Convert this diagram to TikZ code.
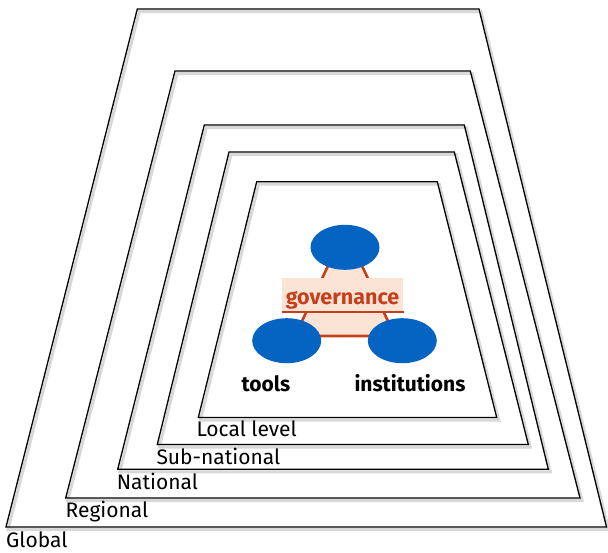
\documentclass[tikz,border=0pt]{standalone}
\usepackage{fontspec}
\setmainfont{Fira Sans}
\usetikzlibrary{shapes.geometric}
\definecolor{peach}{HTML}{FBE4D5}
\definecolor{govred}{HTML}{C4401C}
\definecolor{blobblue}{HTML}{0563C1}
\definecolor{shadowgray}{HTML}{D8D8D8}
\tikzset{
  levelline/.style={draw=black, line width=1.3pt, line join=miter},
  shadowline/.style={draw=shadowgray, line width=3pt},
  lvl/.style={anchor=base west, inner sep=0pt, font=\fontsize{21}{25}\selectfont},
  blob/.style={ellipse, fill=blobblue, minimum width=69pt, minimum height=45pt, inner sep=0pt},
  govbox/.style={rectangle, fill=peach, minimum width=121.6pt, minimum height=34pt, inner sep=0pt},
  govtxt/.style={anchor=base, inner sep=0pt, text=govred, font=\fontsize{21.5}{25}\selectfont\bfseries},
  pillar/.style={anchor=base, inner sep=0pt, font=\fontsize{21}{25}\selectfont\bfseries},
}
\begin{document}
\begin{tikzpicture}[x=1pt,y=-1pt]
\useasboundingbox[fill=white] (0,0) rectangle (608,552);
% nested levels: top-left x / top-right x / bottom-right x / bottom-left x / top y / bottom y
\foreach \a/\b/\c/\d/\t/\u in {
  137.3/479/606.5/6/9/527,
  175/470.3/580/65.7/71/498,
  204.3/464.3/548.3/117.7/125/469.3,
  229/454.3/528.3/157.3/152/444.5,
  256.7/437.3/496.7/198.3/181.7/417.5}{
  \draw[shadowline, shift={(2,2.5)}] (\a,\t) -- (\b,\t) -- (\c,\u) -- (\d,\u) -- cycle;
  \draw[levelline] (\a,\t) -- (\b,\t) -- (\c,\u) -- (\d,\u) -- cycle;
}
\node[lvl] (global) at (6,547) {Global};
\node[lvl] (regional) at (65.5,517.3) {Regional};
\node[lvl] (national) at (116.7,489) {National};
\node[lvl] (subnational) at (156.3,464) {Sub-national};
\node[lvl] (local) at (196.3,436.7) {Local level};
% governance triangle
\filldraw[fill=peach, draw=govred, line width=2.6pt, line join=round]
  (345,229.7) -- (395,336) -- (295,336) -- cycle;
\node[govbox] (gov) at (342.5,294.7) {};
\draw[govred, line width=2.4pt] (gov.south west) -- (gov.south east);
\node[govtxt] (govtext) at (342.5,304) {governance};
% pillars
\node[blob] (apex) at (345,247.3) {};
\node[blob] (toolsblob) at (286.7,340.7) {};
\node[blob] (instblob) at (402.3,340.7) {};
\node[pillar] (tools) at (266,391.7) {tools};
\node[pillar] (institutions) at (410,391.7) {institutions};
\end{tikzpicture}
\end{document}
